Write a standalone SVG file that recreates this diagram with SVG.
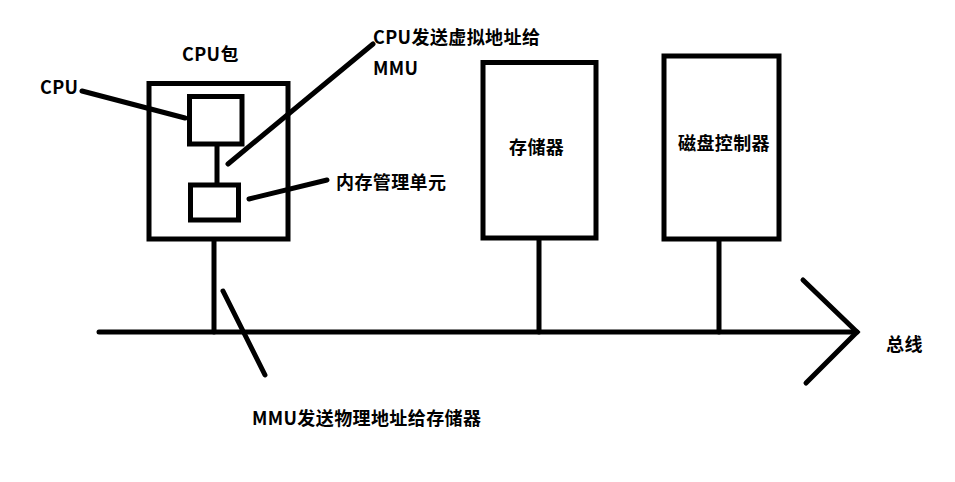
<svg xmlns="http://www.w3.org/2000/svg" width="955" height="482" viewBox="0 0 955 482">
  <style>
    .box { fill: none; stroke: #000; stroke-width: 5; }
    .wire { fill: none; stroke: #000; stroke-width: 5; stroke-linecap: round; }
    .label { font-family: "Noto Sans CJK SC", "Liberation Sans", sans-serif; font-weight: bold; font-size: 18px; letter-spacing: 0.4px; fill: #000; }
  </style>
  <rect width="955" height="482" fill="#fff"/>

  <!-- bus and links -->
  <g id="connectors">
    <line class="wire" x1="99" y1="332" x2="857" y2="332"/>
    <polyline class="wire" points="803,280 857,332 806,383"/>
    <line class="wire" x1="214" y1="241" x2="214" y2="332"/>
    <line class="wire" x1="539" y1="240" x2="539" y2="332"/>
    <line class="wire" x1="719" y1="240" x2="719" y2="332"/>
    <line class="wire" x1="217" y1="146" x2="217" y2="183"/>
    <!-- label pointers -->
    <line class="wire" x1="82" y1="91" x2="185" y2="118"/>
    <line class="wire" x1="228" y1="164" x2="373" y2="44"/>
    <line class="wire" x1="249" y1="199" x2="327" y2="180"/>
    <line class="wire" x1="223" y1="291" x2="265" y2="375"/>
  </g>

  <g id="cpu-package">
    <rect class="box" x="149" y="83.5" width="139" height="155.5"/>
    <text class="label" x="182" y="61">CPU包</text>
  </g>

  <g id="cpu">
    <rect class="box" x="189.5" y="96.5" width="52.5" height="47.5"/>
    <text class="label" x="40" y="94">CPU</text>
  </g>

  <g id="mmu">
    <rect class="box" x="190.5" y="185" width="48" height="35"/>
    <text class="label" x="336" y="189">内存管理单元</text>
  </g>

  <g id="memory">
    <rect class="box" x="483" y="62.5" width="113" height="175.5"/>
    <text class="label" x="509" y="154">存储器</text>
  </g>

  <g id="disk-controller">
    <rect class="box" x="664" y="56" width="115" height="183"/>
    <text class="label" x="678" y="150">磁盘控制器</text>
  </g>

  <g id="notes">
    <text class="label" x="373" y="44">CPU发送虚拟地址给</text>
    <text class="label" x="373" y="75">MMU</text>
    <text class="label" x="252" y="425">MMU发送物理地址给存储器</text>
    <text class="label" x="886" y="351">总线</text>
  </g>
</svg>
